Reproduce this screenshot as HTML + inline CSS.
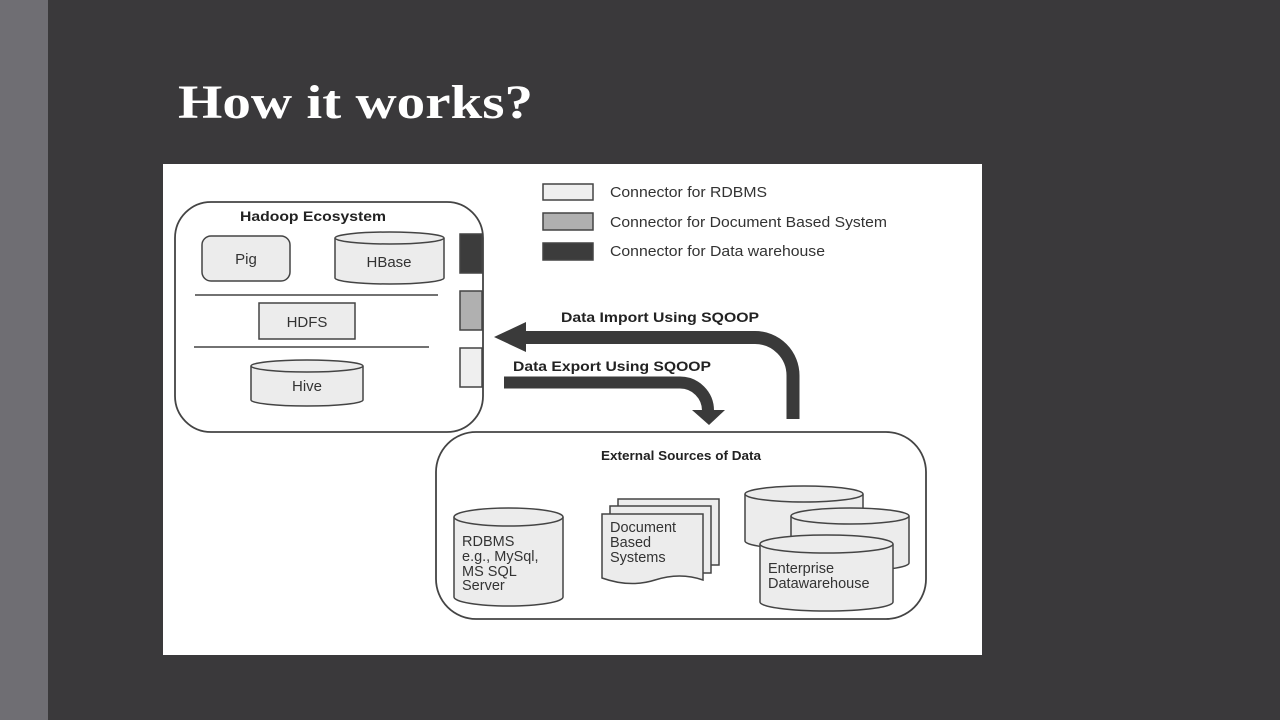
<!DOCTYPE html>
<html><head><meta charset="utf-8"><style>
html,body{margin:0;padding:0;width:1280px;height:720px;overflow:hidden;background:#3a393b}
svg{display:block}
</style></head><body>
<svg width="1280" height="720" viewBox="0 0 1280 720" xmlns="http://www.w3.org/2000/svg" font-family="Liberation Sans, Arial, sans-serif">
<rect x="0" y="0" width="1280" height="720" fill="#3a393b"/>
<rect x="0" y="0" width="48" height="720" fill="#6f6e73"/>
<text x="178" y="118" fill="#ffffff" font-family="Liberation Serif, serif" font-weight="bold" font-size="48" textLength="355" lengthAdjust="spacingAndGlyphs">How it works?</text>
<rect x="163" y="164" width="819" height="491" fill="#ffffff"/>

<!-- Legend -->
<g stroke="#444" stroke-width="1.5">
<rect x="543" y="184" width="50" height="16" fill="#efefef"/>
<rect x="543" y="213" width="50" height="17" fill="#b0b0b0"/>
<rect x="543" y="243" width="50" height="17" fill="#3c3c3c"/>
</g>
<g font-size="14.5" fill="#333">
<text x="610" y="197" textLength="157" lengthAdjust="spacingAndGlyphs">Connector for RDBMS</text>
<text x="610" y="227" textLength="277" lengthAdjust="spacingAndGlyphs">Connector for Document Based System</text>
<text x="610" y="256" textLength="215" lengthAdjust="spacingAndGlyphs">Connector for Data warehouse</text>
</g>

<!-- Hadoop ecosystem -->
<rect x="175" y="202" width="308" height="230" rx="36" fill="#fff" stroke="#444" stroke-width="1.8"/>
<text x="240" y="221" font-weight="bold" font-size="14" fill="#222" textLength="146" lengthAdjust="spacingAndGlyphs">Hadoop Ecosystem</text>
<rect x="202" y="236" width="88" height="45" rx="9" fill="#ececec" stroke="#444" stroke-width="1.5"/>
<text x="246" y="264" text-anchor="middle" font-size="15" fill="#333">Pig</text>
<g stroke="#444" stroke-width="1.5" fill="#ececec">
<path d="M335 238 V278 A54.5 6 0 0 0 444 278 V238"/>
<ellipse cx="389.5" cy="238" rx="54.5" ry="6"/>
<path d="M251 366 V400 A56 6 0 0 0 363 400 V366"/>
<ellipse cx="307" cy="366" rx="56" ry="6"/>
</g>
<text x="389" y="267" text-anchor="middle" font-size="15" fill="#333">HBase</text>
<text x="307" y="391" text-anchor="middle" font-size="15" fill="#333">Hive</text>
<line x1="195" y1="295" x2="438" y2="295" stroke="#444" stroke-width="1.5"/>
<rect x="259" y="303" width="96" height="36" fill="#ececec" stroke="#444" stroke-width="1.5"/>
<text x="307" y="327" text-anchor="middle" font-size="15" fill="#333">HDFS</text>
<line x1="194" y1="347" x2="429" y2="347" stroke="#444" stroke-width="1.5"/>
<g stroke="#444" stroke-width="1.5">
<rect x="460" y="234" width="22" height="39" fill="#3c3c3c"/>
<rect x="460" y="291" width="22" height="39" fill="#b0b0b0"/>
<rect x="460" y="348" width="22" height="39" fill="#efefef"/>
</g>

<!-- Arrows -->
<text x="561" y="322" font-weight="bold" font-size="14" fill="#222" textLength="198" lengthAdjust="spacingAndGlyphs">Data Import Using SQOOP</text>
<path d="M524 337.5 H755 A38 38 0 0 1 793 375.5 V419" fill="none" stroke="#3a3a3a" stroke-width="13"/>
<polygon points="494,337 526,322 526,352" fill="#3a3a3a"/>
<text x="513" y="371" font-weight="bold" font-size="14" fill="#222" textLength="198" lengthAdjust="spacingAndGlyphs">Data Export Using SQOOP</text>
<path d="M504 382.5 H680 A28 28 0 0 1 708 410.5 V412" fill="none" stroke="#3a3a3a" stroke-width="12"/>
<polygon points="692,410 725,410 709,425" fill="#3a3a3a"/>

<!-- External -->
<rect x="436" y="432" width="490" height="187" rx="40" fill="#fff" stroke="#444" stroke-width="1.8"/>
<text x="601" y="460" font-weight="bold" font-size="12.5" fill="#222" textLength="160" lengthAdjust="spacingAndGlyphs">External Sources of Data</text>
<g stroke="#444" stroke-width="1.5" fill="#ececec">
<path d="M454 517 V597 A54.5 9 0 0 0 563 597 V517"/>
<ellipse cx="508.5" cy="517" rx="54.5" ry="9"/>
<rect x="618" y="499" width="101" height="66"/>
<rect x="610" y="506" width="101" height="67"/>
<path d="M602 514 H703 V580 Q680 572 655 580 T602 578 Z"/>
<path d="M745 494 V541 A59 8 0 0 0 863 541 V494"/>
<ellipse cx="804" cy="494" rx="59" ry="8"/>
<path d="M791 516 V563 A59 8 0 0 0 909 563 V516"/>
<ellipse cx="850" cy="516" rx="59" ry="8"/>
<path d="M760 544 V602 A66.5 9 0 0 0 893 602 V544"/>
<ellipse cx="826.5" cy="544" rx="66.5" ry="9"/>
</g>
<g font-size="14.5" fill="#333">
<text x="462" y="546">RDBMS</text>
<text x="462" y="561">e.g., MySql,</text>
<text x="462" y="576">MS SQL</text>
<text x="462" y="590">Server</text>
<text x="610" y="532">Document</text>
<text x="610" y="547">Based</text>
<text x="610" y="562">Systems</text>
<text x="768" y="573">Enterprise</text>
<text x="768" y="588">Datawarehouse</text>
</g>
</svg>
</body></html>
